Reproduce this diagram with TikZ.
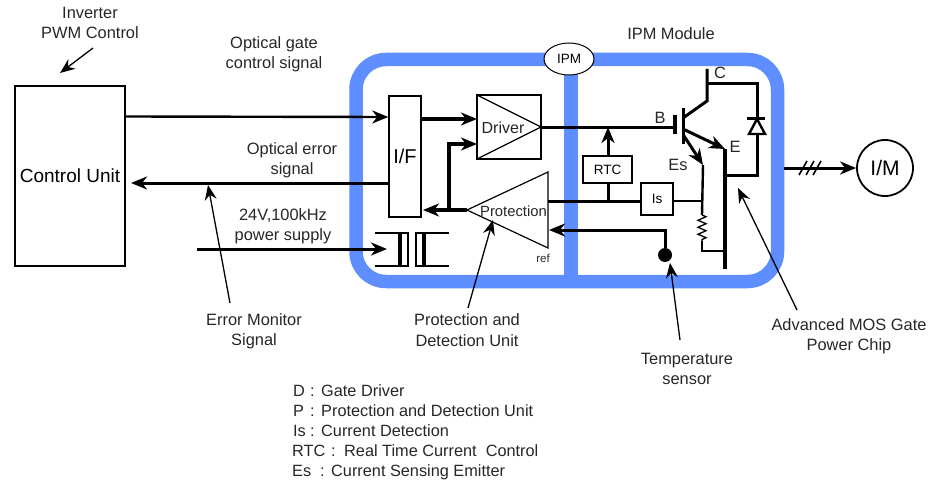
\documentclass[tikz,border=0pt]{standalone}
\usepackage{fontspec}
\setmainfont{Liberation Sans}
\usetikzlibrary{arrows.meta,decorations.pathmorphing,shapes.geometric}
\tikzset{
 lbl/.style={font=\fontsize{16.4}{20.3}\selectfont,align=center,inner sep=0pt,text=black!85},
 leg/.style={font=\fontsize{16.3}{19}\selectfont,inner sep=0pt,text=black!85,anchor=base west},
 box/.style={draw=black,line width=1.5pt,fill=white,inner sep=0pt},
 tip/.style={-{Stealth[length=16pt,width=13pt,inset=5pt]}},
 wire/.style={line width=3pt},
 note/.style={line width=1.3pt,-{Stealth[length=15pt,width=12pt,inset=5pt]}},
}
\begin{document}
\begin{tikzpicture}[x=1pt,y=-1pt]
\useasboundingbox (0,0) rectangle (928,484);
% module frame
\draw[draw={rgb,255:red,94;green,142;blue,255},line width=13.5pt,rounded corners=30pt] (356,59.5) rectangle (777.5,281.5);
\draw[draw={rgb,255:red,94;green,142;blue,255},line width=13.5pt] (571,59.5) -- (571,281.5);
\node[draw=black,fill=white,ellipse,minimum width=50pt,minimum height=32pt,inner sep=0pt,line width=1pt,font=\fontsize{13.5}{15}\selectfont] (ipm) at (569,59) {IPM};
% boxes
\node[box,minimum width=110pt,minimum height=180pt,font=\fontsize{19}{22}\selectfont] (cu) at (70,176) {\raisebox{-2pt}{Control Unit}};
\node[box,minimum width=32pt,minimum height=121pt,font=\fontsize{20}{22}\selectfont] (if) at (405,156.5) {I/F};
\node[box,minimum width=64pt,minimum height=64pt] (drv) at (509,127) {};
\coordinate (drvtl) at (477,95); \coordinate (drvbl) at (477,159); \coordinate (drvout) at (541,127);
\draw[line width=1.2pt] (drvtl) -- (drvout) -- (drvbl);
\node[lbl,font=\fontsize{16}{19}\selectfont] (drvt) at (503,128) {Driver};
\coordinate (ptip) at (467,210); \coordinate (ptop) at (548,172); \coordinate (pbot) at (548,248);
\draw[line width=1.2pt,fill=white] (ptip) -- (ptop) -- (pbot) -- cycle;
\node[lbl,font=\fontsize{14.8}{17}\selectfont] (prot) at (513.5,211) {Protection};
\node[lbl,font=\fontsize{11.5}{13}\selectfont] (reft) at (543,258) {ref};
\node[box,minimum width=49pt,minimum height=27pt,font=\fontsize{13.5}{15}\selectfont] (rtc) at (607.5,169.5) {RTC};
\node[box,minimum width=32pt,minimum height=32pt,font=\fontsize{13.5}{15}\selectfont] (is) at (657,199) {Is};
\node[draw=black,circle,line width=1.8pt,minimum size=56pt,inner sep=0pt,font=\fontsize{21}{24}\selectfont] (im) at (885,168) {I/M};
% outer wires
\coordinate (inL) at (125,116.5);
\draw[line width=2.4pt,tip] (inL) -- (if.west |- 0,117);
\coordinate (ifE) at (389,183); \coordinate (cuE) at (131,183);
\draw[wire,tip] (ifE) -- (cuE);
\coordinate (supL) at (197,249); \coordinate (supR) at (387,249);
\draw[wire,tip] (supL) -- (supR);
% I/F - driver - protection
\coordinate (ifdA) at (421,119); \coordinate (ifdB) at (477,119);
\draw[line width=3.4pt,tip] (ifdA) -- (ifdB);
\coordinate (pifA) at (423,210);
\draw[line width=3.4pt,tip] (ptip) -- (pifA);
\coordinate (bj) at (449,210); \coordinate (bc) at (449,144); \coordinate (be) at (477,144);
\draw[line width=3.4pt,tip] (bj) -- (bc) -- (be);
% transformer
\coordinate (t1) at (375,233); \coordinate (t2) at (408,233); \coordinate (t3) at (408,266); \coordinate (t4) at (375,266);
\draw[line width=1.2pt] (t1) -- (t2) -- (t3) -- (t4);
\coordinate (t5) at (449,233); \coordinate (t6) at (416,233); \coordinate (t7) at (416,266); \coordinate (t8) at (449,266);
\draw[line width=1.2pt] (t5) -- (t6) -- (t7) -- (t8);
\coordinate (t9) at (400,233); \coordinate (t10) at (400,266); \coordinate (t11) at (424,233); \coordinate (t12) at (424,266);
\draw[line width=3.6pt] (t9) -- (t10) (t11) -- (t12);
% base line
\coordinate (gate) at (675,127); \coordinate (rj) at (608,127);
\draw[wire] (drvout) -- (gate);
\draw[wire,tip] (rtc.north -| rj) -- (rj);
\coordinate (pout) at (548,201); \coordinate (rj2) at (608,201);
\draw[wire] (pout) -- (is.west |- pout);
\draw[wire] (rtc.south -| rj) -- (rj2);
% temperature
\node[circle,fill=black,minimum size=14pt,inner sep=0pt] (ts) at (665,255) {};
\coordinate (tc) at (665,230); \coordinate (tr) at (549,230);
\draw[wire,tip] (ts) -- (tc) -- (tr);
% IGBT
\coordinate (g1) at (675,115); \coordinate (g2) at (675,134);
\draw[line width=3.6pt] (g1) -- (g2);
\coordinate (ch1) at (683,108); \coordinate (ch2) at (683,144);
\draw[line width=3pt] (ch1) -- (ch2);
\coordinate (c0) at (683,118); \coordinate (c1) at (707,101); \coordinate (c2) at (707,69);
\draw[line width=3pt] (c0) -- (c1) -- (c2);
\coordinate (e0) at (683,129); \coordinate (e1) at (725,149);
\draw[line width=3pt,tip] (e0) -- (e1);
\coordinate (s0) at (684,136); \coordinate (s1) at (703,165);
\draw[line width=3pt,tip] (s0) -- (s1);
\coordinate (e2) at (725,269);
\draw[line width=3.2pt] (e1) -- (e2);
\coordinate (a1) at (707,84); \coordinate (a2) at (757,84); \coordinate (a3) at (757,175); \coordinate (a4) at (725,175);
\draw[line width=3pt] (a1) -- (a2) -- (a3) -- (a4);
% diode
\coordinate (d1) at (747,119); \coordinate (d2) at (765,119); \coordinate (d3) at (749,134); \coordinate (d4) at (765,134); \coordinate (d5) at (757,119);
\draw[line width=2.4pt,fill=white] (d5) -- (d3) -- (d4) -- cycle;
\draw[line width=3pt] (d1) -- (d2);
% sense line
\coordinate (s2) at (702,215); \coordinate (s3) at (702,241); \coordinate (s4) at (702,251); \coordinate (s5) at (725,251);
\draw[line width=2.4pt] (s1) -- (s2);
\draw[line width=1.3pt,decorate,decoration={zigzag,amplitude=4pt,segment length=7pt}] (s2) -- (s3);
\draw[line width=2.4pt] (s3) -- (s4) -- (s5);
\draw[line width=2pt] (is.east |- 0,201) -- (702,201);
% output
\coordinate (o1) at (784,168);
\draw[wire,tip] (o1) -- (im.west);
\foreach \x in {0,1,2} \draw[line width=1.6pt] (799+\x*7,175) -- (807+\x*7,161);
% annotation arrows
\coordinate (n1a) at (93,48); \coordinate (n1b) at (60,73);
\draw[note] (n1a) -- (n1b);
\coordinate (n2a) at (230,303); \coordinate (n2b) at (208,185);
\draw[note] (n2a) -- (n2b);
\coordinate (n3a) at (468,308); \coordinate (n3b) at (493,220);
\draw[note] (n3a) -- (n3b);
\coordinate (n4a) at (680,340); \coordinate (n4b) at (670,263);
\draw[note] (n4a) -- (n4b);
\coordinate (n5a) at (797,310); \coordinate (n5b) at (738,188);
\draw[note] (n5a) -- (n5b);
% labels
\node[lbl] (l1) at (90,23) {Inverter\\PWM Control};
\node[lbl] (l2) at (274,54) {Optical gate\\control signal};
\node[lbl] (l3) at (292,160) {Optical error\\signal};
\node[lbl] (l4) at (283,226) {24V,100kHz\\power supply};
\node[lbl] (l5) at (254,331) {Error Monitor\\Signal};
\node[lbl] (l6) at (467,330) {Protection and\\Detection Unit};
\node[lbl] (l7) at (687,369) {Temperature\\sensor};
\node[lbl] (l8) at (849,336) {Advanced MOS Gate\\Power Chip};
\node[lbl] (l9) at (671,34) {IPM Module};
\node[lbl] (bt) at (660,118) {B};
\node[lbl] (ct) at (720,73) {C};
\node[lbl] (et) at (735,147) {E};
\node[lbl] (est) at (678,165) {Es};
% legend
\node[leg] (d1) at (293,396) {D};  \node[leg] (d2) at (310,396) {:}; \node[leg] (d3) at (321,396) {Gate Driver};
\node[leg] (p1) at (293,416) {P};  \node[leg] (p2) at (310,416) {:}; \node[leg] (p3) at (321,416) {Protection and Detection Unit};
\node[leg] (i1) at (293,436) {Is}; \node[leg] (i2) at (310,436) {:}; \node[leg] (i3) at (321,436) {Current Detection};
\node[leg] (r1) at (292,456) {RTC}; \node[leg] (r2) at (331,456) {:}; \node[leg] (r3) at (344,456) {Real Time Current\ \ Control};
\node[leg] (e1l) at (292,476) {Es}; \node[leg] (e2l) at (320,476) {:}; \node[leg] (e3l) at (331,476) {Current Sensing Emitter};
\end{tikzpicture}
\end{document}
